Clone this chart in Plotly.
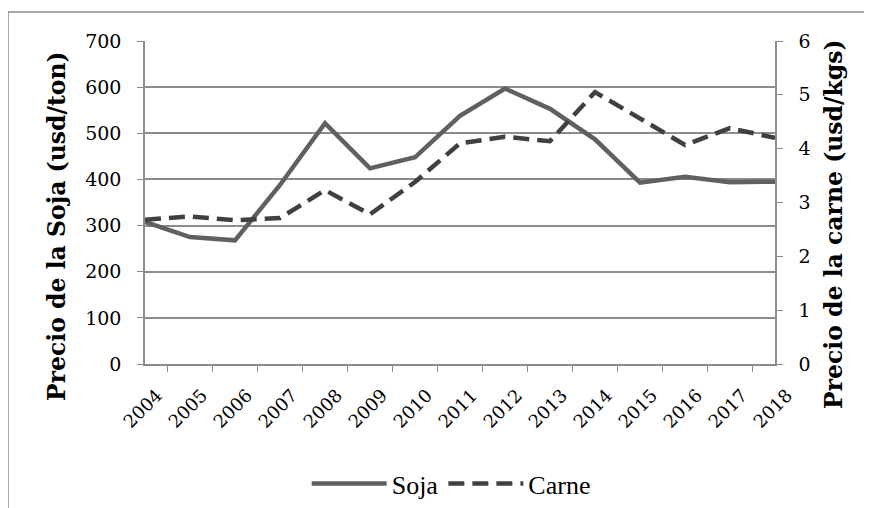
import plotly.graph_objects as go

years = ["2004", "2005", "2006", "2007", "2008", "2009", "2010", "2011",
         "2012", "2013", "2014", "2015", "2016", "2017", "2018"]
soja = [308, 275, 268, 388, 522, 424, 448, 538, 597, 553, 487, 393, 406, 394, 395]
carne = [2.68, 2.74, 2.67, 2.71, 3.23, 2.78, 3.38, 4.1, 4.22, 4.14, 5.05, 4.56, 4.07, 4.38, 4.2]

W, H = 872, 508
OFF = 8  # page body margin
L, R, T, B = 145 - OFF, 775 - OFF, 41 - OFF, 364 - OFF
serif = "DejaVu Serif"

fig = go.Figure()
fig.add_trace(go.Scatter(x=years, y=soja, name="Soja", mode="lines",
                         line=dict(color="#606060", width=4.5)))
fig.add_trace(go.Scatter(x=years, y=carne, name="Carne", mode="lines", yaxis="y2",
                         line=dict(color="#404040", width=4.5, dash="16px,8px")))

axcol = "#8c8c8c"
fig.update_layout(
    width=W, height=H,
    margin=dict(l=L, r=W - R, t=T, b=H - B, autoexpand=False),
    paper_bgcolor="white", plot_bgcolor="white",
    font=dict(family=serif, color="#000000", size=16),
    xaxis=dict(type="category", tickson="boundaries", ticks="outside", ticklen=6,
               tickcolor=axcol, showline=True, linecolor=axcol, linewidth=1.5,
               showgrid=False, tickangle=-45, automargin=False, ticklabelstandoff=12,
               ticklabelshift=12, tickfont=dict(size=18, family=serif)),
    yaxis=dict(range=[0, 700], dtick=100, ticks="outside", ticklen=6, tickcolor=axcol,
               showline=True, linecolor=axcol, linewidth=1.5, showgrid=True,
               gridcolor="#8c8c8c", gridwidth=1.5, zeroline=False, automargin=False,
               tickfont=dict(size=19, family=serif), ticklabelstandoff=12),
    yaxis2=dict(range=[0, 6], dtick=1, overlaying="y", side="right", ticks="outside",
                ticklen=6, tickcolor=axcol, showline=True, linecolor=axcol, linewidth=1.5,
                showgrid=False, zeroline=False, automargin=False,
                tickfont=dict(size=19, family=serif), ticklabelstandoff=12),
    legend=dict(orientation="h", x=0.486, xanchor="center", y=-0.37, yanchor="middle",
                font=dict(size=26, family="Liberation Serif"), bgcolor="rgba(0,0,0,0)",
                itemwidth=75),
    showlegend=True,
)

pw, ph = R - L, B - T
fig.add_annotation(text="<b>Precio de la Soja (usd/ton)</b>", textangle=-90,
                   xref="paper", yref="paper", x=(57 - 145) / pw, y=(364 - 226) / ph,
                   xanchor="center", yanchor="middle", showarrow=False,
                   font=dict(size=23.5, family=serif, color="#000000"))
fig.add_annotation(text="<b>Precio de la carne (usd/kgs)</b>", textangle=-90,
                   xref="paper", yref="paper", x=(834 - 145) / pw, y=(364 - 224) / ph,
                   xanchor="center", yanchor="middle", showarrow=False,
                   font=dict(size=23.5, family=serif, color="#000000"))

fig.add_shape(type="rect", xref="paper", yref="paper",
              x0=(8 - OFF - L) / pw, x1=(W + 20 - L) / pw,
              y0=(B - (H + 20)) / ph, y1=(B - (12 - OFF)) / ph,
              line=dict(color="#8c8c8c", width=1.5), fillcolor="rgba(0,0,0,0)", layer="below")

fig.write_html("out.html")
